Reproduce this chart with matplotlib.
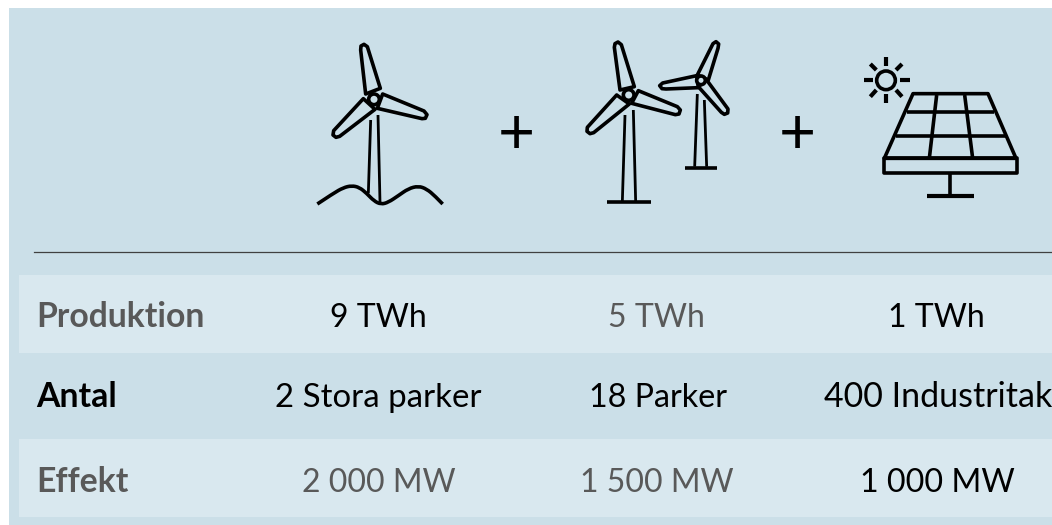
import matplotlib
matplotlib.use('Agg')
import matplotlib.pyplot as plt
from matplotlib.patches import Circle, Polygon, Rectangle, PathPatch
from matplotlib.path import Path

plt.rcParams['font.family'] = ['Lato', 'DejaVu Sans']

# table content
row_labels = ['Produktion', 'Antal', 'Effekt']
label_colors = ['#595959', '#000000', '#595959']
cells = [['9 TWh', '5 TWh', '1 TWh'],
         ['2 Stora parker', '18 Parker', '400 Industritak'],
         ['2 000 MW', '1 500 MW', '1 000 MW']]
cell_colors = [['#000000', '#595959', '#000000'],
               ['#000000', '#000000', '#000000'],
               ['#595959', '#595959', '#000000']]
cell_x = [[378, 656, 936],
          [378, 658, 938.5],
          [379, 657, 937]]
cell_sizes = [[23, 23, 23],
              [23.8, 23.2, 24.5],
              [23, 23, 23.2]]
row_baselines = [327, 407, 492]

BG = '#cbdfe8'
STRIP = '#d9e8ef'
ICON_LW = 2.6

t1_origin = (300, 20)
t1_blades = [[(197, 222), (182, 90), (183, 78), (192, 73), (202, 80), (241, 205)],
             [(248, 222), (372, 273), (381, 284), (376, 295), (366, 296), (232, 265)],
             [(190, 236), (101, 332), (99, 345), (108, 352), (119, 349), (225, 268)]]
t1_hub = (222, 238, 16)
t1_tower = [[(212, 300), (205, 520)], [(234, 285), (240, 548)]]
t1_ground = [(52, 552), (100, 520), (130, 503), (155, 497), (178, 502), (200, 520),
             (222, 543), (243, 553), (265, 547), (295, 527), (325, 506), (355, 498),
             (380, 507), (405, 528), (428, 552)]

t2_origin = (570, 20)
t2_big_blades = [[(150, 210), (133, 82), (135, 71), (144, 66), (154, 74), (193, 200)],
                 [(205, 212), (322, 260), (331, 270), (327, 282), (316, 284), (185, 250)],
                 [(140, 225), (52, 322), (51, 334), (60, 341), (71, 338), (178, 252)]]
t2_big_hub = (176, 225, 16)
t2_big_tower = [[(165, 285), (157, 545)], [(190, 270), (197, 545)]]
t2_big_base = [(110, 546), (244, 546)]
t2_small_blades = [[(382, 165), (429, 71), (438, 65), (446, 72), (444, 85), (415, 180)],
                   [(380, 167), (278, 189), (269, 197), (276, 206), (288, 207), (385, 203)],
                   [(410, 180), (474, 267), (473, 279), (463, 283), (454, 277), (385, 200)]]
t2_small_hub = (393, 181, 13)
t2_small_tower = [[(382, 222), (374, 440)], [(403, 240), (410, 440)]]
t2_small_base = [(345, 445), (440, 445)]

s_origin = (812, 40)
sun = (222, 121, 28)
sun_rays = [[(222, 52), (222, 78)], [(222, 162), (222, 190)],
            [(155, 121), (183, 121)], [(265, 121), (293, 121)],
            [(175, 72), (193, 90)], [(270, 72), (252, 90)],
            [(175, 170), (193, 150)], [(270, 170), (252, 150)]]
panel_top = [(303, 161), (528, 161), (612, 355), (217, 355)]
panel_box = [(217, 355), (615, 355), (615, 400), (217, 400)]
panel_grid = [[(284, 216), (547, 216)], [(252, 288), (582, 288)],
              [(374, 165), (352, 355)], [(458, 165), (482, 355)],
              [(415, 400), (415, 465)]]
panel_base = [(345, 467), (487, 467)]

plus_x = [516, 797]


def to_px(points, origin):
    return [(origin[0] + x / 3, origin[1] + y / 3) for x, y in points]


def draw_line(ax, points, origin, lw=ICON_LW, cap='butt'):
    pts = to_px(points, origin)
    ax.plot([p[0] for p in pts], [p[1] for p in pts], color='black', lw=lw,
            solid_capstyle=cap, solid_joinstyle='round')


def draw_poly(ax, points, origin, lw=ICON_LW):
    ax.add_patch(Polygon(to_px(points, origin), closed=True, facecolor='none',
                         edgecolor='black', lw=lw, joinstyle='round'))


def draw_circle(ax, c, origin, lw=ICON_LW):
    ax.add_patch(Circle((origin[0] + c[0] / 3, origin[1] + c[1] / 3), c[2] / 3,
                        facecolor=BG, edgecolor='black', lw=lw, zorder=3))


def draw_smooth(ax, points, origin, lw=ICON_LW):
    # quadratic segments through the midpoints, so the hills stay round
    pts = to_px(points, origin)
    verts = [pts[0]]
    codes = [Path.MOVETO]
    for a, b in zip(pts[1:-2], pts[2:-1]):
        verts += [a, ((a[0] + b[0]) / 2, (a[1] + b[1]) / 2)]
        codes += [Path.CURVE3, Path.CURVE3]
    verts += [pts[-2], pts[-1]]
    codes += [Path.CURVE3, Path.CURVE3]
    ax.add_patch(PathPatch(Path(verts, codes), facecolor='none', edgecolor='black',
                           lw=lw, capstyle='butt'))


fig = plt.figure(figsize=(10.52, 5.25), dpi=100)
ax = fig.add_axes([0, 0, 1, 1])
ax.set_xlim(0, 1052)
ax.set_ylim(525, 0)
ax.axis('off')

# background, strips and rule
ax.add_patch(Rectangle((9, 8), 1043, 517, color=BG, lw=0))
ax.add_patch(Rectangle((19, 275), 1033, 78, color=STRIP, lw=0))
ax.add_patch(Rectangle((19, 439), 1033, 78, color=STRIP, lw=0))
ax.plot([34, 1052], [252, 252], color='#404040', lw=0.9)

# offshore turbine
for blade in t1_blades:
    draw_poly(ax, blade, t1_origin)
draw_circle(ax, t1_hub, t1_origin)
for seg in t1_tower:
    draw_line(ax, seg, t1_origin, lw=2.0)
draw_smooth(ax, t1_ground, t1_origin)

# onshore turbines
for blade in t2_big_blades + t2_small_blades:
    draw_poly(ax, blade, t2_origin)
draw_circle(ax, t2_big_hub, t2_origin)
draw_circle(ax, t2_small_hub, t2_origin)
for seg in t2_big_tower + t2_small_tower:
    draw_line(ax, seg, t2_origin, lw=2.0)
draw_line(ax, t2_big_base, t2_origin, lw=2.6)
draw_line(ax, t2_small_base, t2_origin, lw=2.6)

# solar panel
draw_circle(ax, sun, s_origin)
for seg in sun_rays:
    draw_line(ax, seg, s_origin, lw=3.0)
draw_poly(ax, panel_top, s_origin)
draw_poly(ax, panel_box, s_origin)
for seg in panel_grid:
    draw_line(ax, seg, s_origin)
draw_line(ax, panel_base, s_origin, lw=3.0)

for x in plus_x:
    ax.text(x, 130, '+', fontsize=46, ha='center', va='center_baseline', color='black')

# table text
for i, label in enumerate(row_labels):
    ax.text(36, row_baselines[i], label, fontsize=24.3, fontweight='bold',
            color=label_colors[i], ha='left', va='baseline')
    for j in range(3):
        ax.text(cell_x[i][j], row_baselines[i], cells[i][j], fontsize=cell_sizes[i][j],
                color=cell_colors[i][j], ha='center', va='baseline')

fig.savefig('out.png', dpi=100)
